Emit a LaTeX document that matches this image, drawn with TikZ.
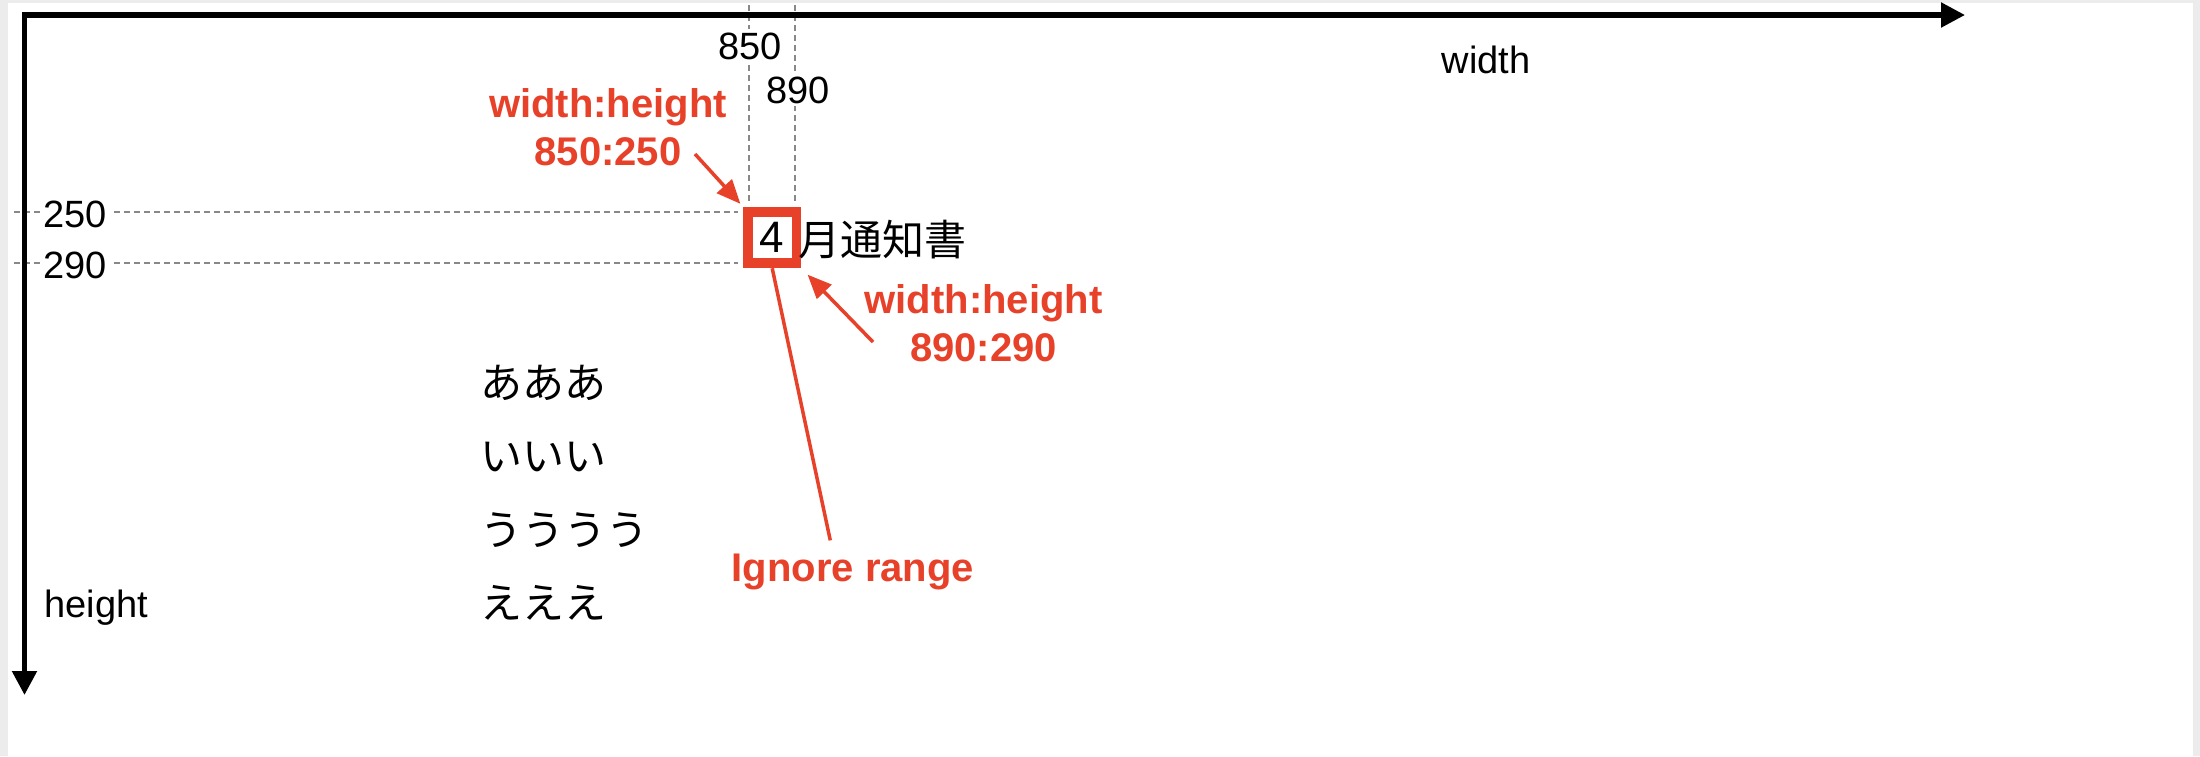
\documentclass[tikz,border=0pt]{standalone}
\usepackage{fontspec}
\setmainfont{Liberation Sans}
\newfontfamily\jpfont{Noto Sans CJK JP}
\usetikzlibrary{arrows.meta}

\definecolor{markred}{RGB}{232,65,42}
\definecolor{guidegray}{RGB}{136,136,136}
\definecolor{pagegray}{RGB}{236,236,236}

\begin{document}
\begin{tikzpicture}[x=0.5pt, y=-0.5pt,
  axis/.style={line width=2.6pt, -{Triangle[length=12pt,width=12pt]}},
  guide/.style={guidegray, line width=0.65pt, dash pattern=on 3pt off 2pt},
  tick/.style={fill=white, inner sep=1.5pt, anchor=base, font=\fontsize{19pt}{23pt}\selectfont},
  axislabel/.style={inner sep=0pt, font=\fontsize{19pt}{23pt}\selectfont},
  kana/.style={inner sep=0pt, anchor=base west, font=\fontsize{21pt}{25pt}\selectfont\jpfont},
  note/.style={markred, inner sep=0pt, anchor=base, font=\fontsize{20pt}{24pt}\selectfont\bfseries},
  pointer/.style={markred, line width=1.75pt, -{Triangle[length=12pt,width=10pt]}},
  ignorebox/.style={draw=markred, line width=4.9pt, minimum width=24.2pt, minimum height=25.8pt,
    inner sep=0pt, font=\fontsize{22pt}{26pt}\selectfont}
]

% Page background
\fill[pagegray] (0,0) rectangle (2200,756);
\fill[white] (8,3) rectangle (2193,756);
\useasboundingbox (0,0) rectangle (2200,756);

% Character box at 850:250 -- 890:290
\node[ignorebox] (four) at (772.2,237.5) {4};
\node[kana] (month) at (798,255) {月通知書};

% Guide lines
\coordinate (top850) at (749,5);
\coordinate (top890) at (795,5);
\coordinate (left250) at (14,212);
\coordinate (left290) at (14,263);
\draw[guide, shorten >=2.4pt] (top850) -- (top850 |- four.north);
\draw[guide, shorten >=2.4pt] (top890) -- (top890 |- four.north);
\draw[guide, shorten >=2.4pt] (left250) -- (left250 -| four.west);
\draw[guide, shorten >=2.4pt] (left290) -- (left290 -| four.west);

% Tick values
\node[tick] (x850) at (750,59) {850};
\node[tick] (x890) at (798,103) {890};
\node[tick] (y250) at (75,227) {250};
\node[tick] (y290) at (75,278) {290};

% Axes
\coordinate (O) at (24.5,15);
\coordinate (W) at (1965,15);
\coordinate (H) at (24.5,695);
\draw[axis, line cap=rect] (O) -- (W);
\draw[axis] (O) -- (H);
\node[axislabel, anchor=base] (wlabel) at (1486,73) {width};
\node[axislabel, anchor=base west] (hlabel) at (44,617) {height};

% Other lines of text
\node[kana] (kanaA) at (480,398) {あああ};
\node[kana] (kanaI) at (480,471) {いいい};
\node[kana] (kanaU) at (480,545) {うううう};
\node[kana] (kanaE) at (480,618) {えええ};

% Notes
\node[note] (note850a) at (608,117) {width:height};
\node[note] (note850b) at (608,165) {850:250};
\node[note] (note890a) at (983.5,313) {width:height};
\node[note] (note890b) at (983.5,361) {890:290};
\node[note] (ignore) at (853,581) {Ignore range};

% Pointers
\coordinate (from850) at (695,154);
\coordinate (from890) at (873,342);
\draw[pointer, shorten >=2pt] (from850) -- (four.north west);
\draw[pointer, shorten >=4.5pt] (from890) -- (four.south east);
\draw[markred, line width=1.75pt, shorten >=6.5pt] (four.south) -- ([xshift=-10pt]ignore.north);

\end{tikzpicture}
\end{document}
